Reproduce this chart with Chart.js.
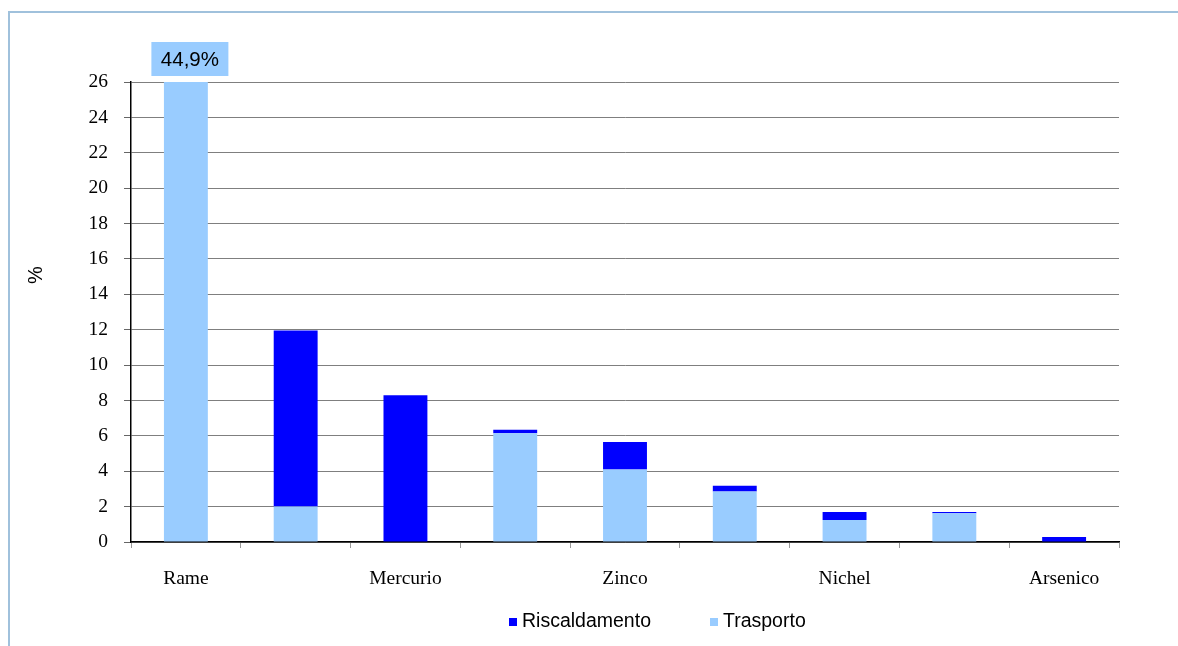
<!DOCTYPE html>
<html>
<head>
<meta charset="utf-8">
<script src="https://cdn.jsdelivr.net/npm/chart.js@4/dist/chart.umd.min.js"></script>
<style>
    body { margin: 0; background: #fff; }
    #wrap { position: relative; width: 1178px; height: 646px; overflow: hidden; }
    #frame { position: absolute; left: 8px; top: 11px; width: 1200px; height: 700px;
             border-left: 2px solid #a0c1dc; border-top: 2px solid #a0c1dc; }
    canvas { position: absolute; left: 0; top: 0; }
    #legend { position: absolute; top: 607px; left: 0; width: 1178px; height: 26px;
              font-family: "Liberation Sans", Arial, sans-serif; font-size: 19.5px; color: #000; }
    .item { position: absolute; top: 0; line-height: 26px; white-space: nowrap; }
    .key { display: inline-block; width: 8px; height: 8px; margin-right: 5px; vertical-align: 1px; }
</style>
</head>
<body>
<div id="wrap">
    <div id="frame"></div>
    <canvas id="chart" width="1178" height="646"></canvas>
    <div id="legend"></div>
</div>
<script>
// categories (only every other name is printed on the axis)
const categories = ['Rame', '', 'Mercurio', '', 'Zinco', '', 'Nichel', '', 'Arsenico'];

// share of emissions, %
const trasporto      = [44.9, 2.0, 0, 6.15, 4.1, 2.85, 1.25, 1.63, 0];
const riscaldamento  = [0, 9.95, 8.3, 0.2, 1.55, 0.33, 0.45, 0.07, 0.28];

const seriesNames  = ['Riscaldamento', 'Trasporto'];
const seriesColors = ['#0000ff', '#99ccff'];

const yMax = 26;
const yStep = 2;

// value box over the bar that runs off the top of the axis
const overflowLabel = {
    id: 'overflowLabel',
    afterDatasetsDraw(chart) {
        const ctx = chart.ctx;
        const meta = chart.getDatasetMeta(0);
        trasporto.forEach((v, i) => {
            if (v <= yMax) return;
            const bar = meta.data[i];
            const cx = bar.x + 4;
            const w = 77, h = 34;
            const top = chart.chartArea.top - 40;
            ctx.save();
            ctx.fillStyle = seriesColors[1];
            ctx.fillRect(cx - w / 2, top, w, h);
            ctx.fillStyle = '#000';
            ctx.font = '20.5px "Liberation Sans", Arial, sans-serif';
            ctx.textAlign = 'center';
            ctx.textBaseline = 'middle';
            ctx.fillText(v.toFixed(1).replace('.', ',') + '%', cx, top + h / 2 + 1);
            ctx.restore();
        });

        // axis unit
        ctx.save();
        ctx.translate(36, 275);
        ctx.rotate(-Math.PI / 2);
        ctx.fillStyle = '#000';
        ctx.font = '20px "Liberation Sans", Arial, sans-serif';
        ctx.textAlign = 'center';
        ctx.textBaseline = 'middle';
        ctx.fillText('%', 0, 0);
        ctx.restore();
    }
};

const serif = { family: '"Liberation Serif", "Times New Roman", serif', size: 19.5 };

new Chart(document.getElementById('chart'), {
    type: 'bar',
    data: {
        labels: categories,
        datasets: [
            { label: seriesNames[1], data: trasporto, backgroundColor: seriesColors[1], clip: 0 },
            { label: seriesNames[0], data: riscaldamento, backgroundColor: seriesColors[0], clip: 0 }
        ]
    },
    options: {
        responsive: false,
        animation: false,
        events: [],
        layout: { padding: { top: 82, right: 59, left: 0, bottom: 0 } },
        datasets: { bar: { barPercentage: 0.4, categoryPercentage: 1 } },
        plugins: { legend: { display: false }, tooltip: { enabled: false } },
        scales: {
            x: {
                stacked: true,
                afterFit: scale => { scale.height = 104; },
                border: { color: '#000', width: 1.5 },
                grid: { offset: true, drawOnChartArea: false, tickLength: 6, color: '#999' },
                ticks: { autoSkip: false, maxRotation: 0, padding: 19, color: '#000', font: serif }
            },
            y: {
                stacked: true,
                min: 0,
                max: yMax,
                afterFit: scale => { scale.width = 131; },
                border: { color: '#000', width: 1.5 },
                grid: { color: '#7f7f7f', tickLength: 7, tickColor: '#666' },
                ticks: { stepSize: yStep, padding: 16, color: '#000', font: serif }
            }
        }
    },
    plugins: [overflowLabel]
});

// legend, listed with the top segment first
const legend = document.getElementById('legend');
const legendX = [509, 710];
seriesNames.forEach((name, i) => {
    const item = document.createElement('div');
    item.className = 'item';
    item.style.left = legendX[i] + 'px';
    item.innerHTML = '<span class="key" style="background:' + seriesColors[i] + '"></span>' + name;
    legend.appendChild(item);
});
</script>
</body>
</html>
